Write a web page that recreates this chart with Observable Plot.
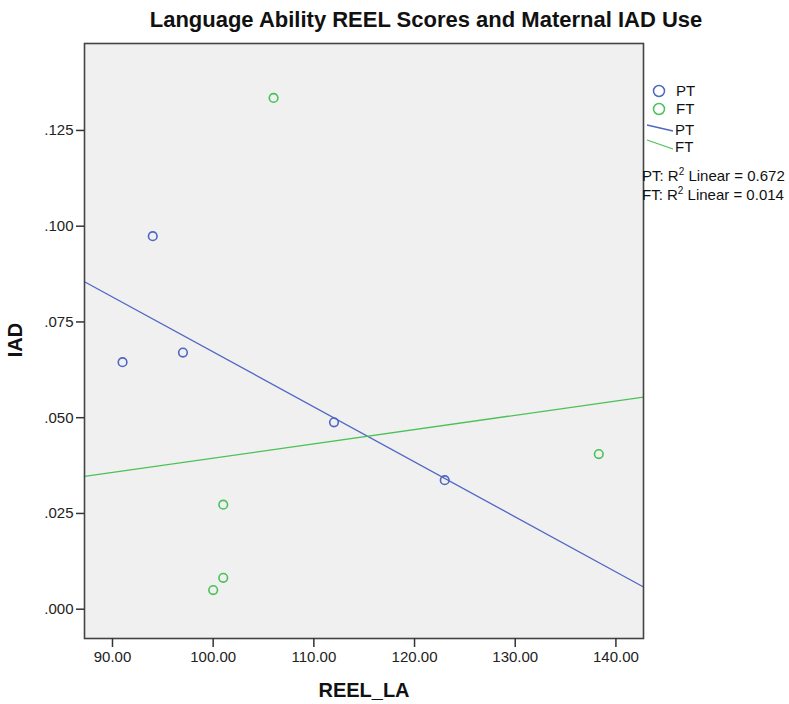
<!DOCTYPE html>
<html>
<head>
<meta charset="utf-8">
<script src="https://cdn.jsdelivr.net/npm/d3@7"></script>
<script src="https://cdn.jsdelivr.net/npm/@observablehq/plot@0.6"></script>
<style>
  html, body { margin: 0; padding: 0; background: #fff; }
  #chart svg { display: block; font-family: "Liberation Sans", Arial, sans-serif; }
  #chart svg g[aria-label="x-axis tick label"],
  #chart svg g[aria-label="y-axis tick label"] { font-size: 15px !important; fill: #222; }
</style>
</head>
<body>
<div id="chart"></div>
<script>
// ---- Data ----
const groups = ["PT", "FT"];
const ptReel = [91, 94, 97, 112, 123];
const ptIad  = [0.0645, 0.0974, 0.067, 0.0488, 0.0337];
const ftReel = [106, 101, 101, 100, 138.3];
const ftIad  = [0.1335, 0.0273, 0.0082, 0.005, 0.0405];
const r2Labels = ["PT: R\u00B2 Linear = 0.672", "FT: R\u00B2 Linear = 0.014"];
const xTicks = [90, 100, 110, 120, 130, 140];
const yTicks = [0, 0.025, 0.05, 0.075, 0.1, 0.125];
const xDomain = [87.22, 142.74];
const yDomain = [-0.00765, 0.1477];

const colors = {PT: "#4f66c4", FT: "#4ac257"};

const points = [
  ...ptReel.map((x, i) => ({group: "PT", x, y: ptIad[i]})),
  ...ftReel.map((x, i) => ({group: "FT", x, y: ftIad[i]}))
];

function fit(xs, ys) {
  const mx = d3.mean(xs), my = d3.mean(ys);
  const sxy = d3.sum(xs, (x, i) => (x - mx) * (ys[i] - my));
  const sxx = d3.sum(xs, x => (x - mx) ** 2);
  const b = sxy / sxx, a = my - b * mx;
  return xDomain.map(x => ({x, y: a + b * x}));
}
const fitLines = [
  ...fit(ptReel, ptIad).map(d => ({...d, group: "PT"})),
  ...fit(ftReel, ftIad).map(d => ({...d, group: "FT"}))
];

const W = 789, H = 704;
const plot = Plot.plot({
  width: W,
  height: H,
  marginLeft: 84,
  marginRight: 146,
  marginTop: 43,
  marginBottom: 66,
  style: {fontFamily: "'Liberation Sans', Arial, sans-serif", fontSize: "15px", color: "#222", background: "#fff"},
  x: {domain: xDomain, ticks: xTicks, tickFormat: d3.format(".2f"), label: null},
  y: {domain: yDomain, ticks: yTicks, tickFormat: d => d3.format(".3f")(d).replace(/^0/, ""), label: null},
  color: {domain: groups, range: groups.map(g => colors[g])},
  marks: [
    Plot.frame({fill: "#f0f0f0"}),
    Plot.line(fitLines, {x: "x", y: "y", z: "group", stroke: d => colors[d.group], strokeWidth: 1.3}),
    Plot.dot(points, {x: "x", y: "y", r: 4.3, stroke: d => colors[d.group], strokeWidth: 1.6, fill: "none"}),
    Plot.frame({stroke: "#444", strokeWidth: 1.6}),
    Plot.axisX({ticks: xTicks, tickFormat: d3.format(".2f"), tickSize: 9, tickPadding: 4, stroke: "#333", strokeWidth: 1.5, label: null}),
    Plot.axisY({ticks: yTicks, tickFormat: d => d3.format(".3f")(d).replace(/^0/, ""), tickSize: 8, tickPadding: 3, stroke: "#333", strokeWidth: 1.5, label: null})
  ]
});

const svg = d3.select(plot);
const font = "'Liberation Sans', Arial, sans-serif";
// Title
svg.append("text").attr("x", 426).attr("y", 27).attr("text-anchor", "middle")
  .attr("font-family", font).attr("font-weight", "bold").attr("font-size", 22).attr("fill", "#111")
  .text("Language Ability REEL Scores and Maternal IAD Use");
// Axis titles
svg.append("text").attr("x", 364).attr("y", 697).attr("text-anchor", "middle")
  .attr("font-family", font).attr("font-weight", "bold").attr("font-size", 20).attr("fill", "#111")
  .text("REEL_LA");
svg.append("text").attr("transform", "translate(22,340) rotate(-90)").attr("text-anchor", "middle")
  .attr("font-family", font).attr("font-weight", "bold").attr("font-size", 20).attr("fill", "#111")
  .text("IAD");

// Legend
const lg = svg.append("g").attr("font-family", font).attr("font-size", 15).attr("fill", "#111")
  .attr("text-anchor", "start");
groups.forEach((g, i) => {
  const cy = 91 + i * 18;
  lg.append("circle").attr("cx", 659).attr("cy", cy).attr("r", 5.5)
    .attr("fill", "none").attr("stroke", colors[g]).attr("stroke-width", 1.5);
  lg.append("text").attr("x", 676).attr("y", cy + 5).text(g);
});
groups.forEach((g, i) => {
  const y0 = 125 + i * 15;
  lg.append("line").attr("x1", 647).attr("y1", y0).attr("x2", 673).attr("y2", y0 + 6 + i * 3)
    .attr("stroke", colors[g]).attr("stroke-width", 1.3);
  lg.append("text").attr("x", 675).attr("y", y0 + 10 + i * 2).text(g);
});
r2Labels.forEach((t, i) => {
  const parts = t.split("\u00B2");
  const tx = lg.append("text").attr("x", 642).attr("y", 181 + i * 19);
  tx.append("tspan").text(parts[0]);
  tx.append("tspan").attr("font-size", 10).attr("dy", -6).text("2");
  tx.append("tspan").attr("dy", 6).text(parts[1]);
});

document.getElementById("chart").appendChild(plot);
</script>
</body>
</html>
